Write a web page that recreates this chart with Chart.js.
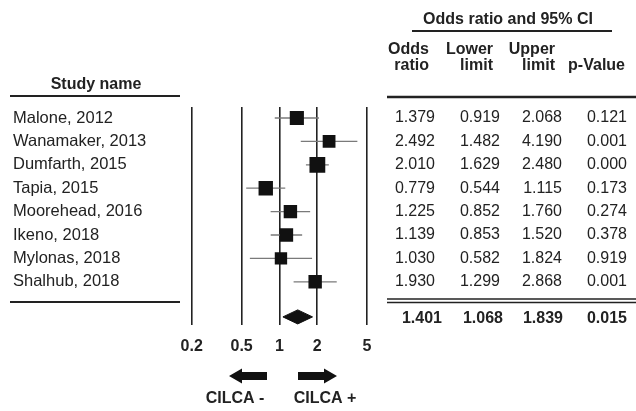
<!DOCTYPE html>
<html>
<head>
<meta charset="utf-8">
<script src="https://cdn.jsdelivr.net/npm/chart.js@4.4.1/dist/chart.umd.min.js"></script>
<style>
  html, body { margin: 0; padding: 0; background: #ffffff; }
  #wrap { width: 636px; height: 411px; position: relative; }
</style>
</head>
<body>
<div id="wrap"><canvas id="c" width="636" height="411"></canvas></div>
<script>
const studies = ['Malone, 2012', 'Wanamaker, 2013', 'Dumfarth, 2015', 'Tapia, 2015',
                 'Moorehead, 2016', 'Ikeno, 2018', 'Mylonas, 2018', 'Shalhub, 2018'];
const oddsRatio  = [1.379, 2.492, 2.010, 0.779, 1.225, 1.139, 1.030, 1.930];
const lowerLimit = [0.919, 1.482, 1.629, 0.544, 0.852, 0.853, 0.582, 1.299];
const upperLimit = [2.068, 4.190, 2.480, 1.115, 1.760, 1.520, 1.824, 2.868];
const pValue     = [0.121, 0.001, 0.000, 0.173, 0.274, 0.378, 0.919, 0.001];
const weights    = [13.2, 10.8, 16.5, 13.7, 11.9, 11.9, 10.1, 11.9];
const summaryValues = [1.401, 1.068, 1.839, 0.015]; // OR, lower, upper, p
const tickValues = [0.2, 0.5, 1, 2, 5];
const tickLabels = ['0.2', '0.5', '1', '2', '5'];
const columnTitles = [['Odds', 'ratio'], ['Lower', 'limit'], ['Upper', 'limit'], ['', 'p-Value']];

const SUMMARY_ROW = studies.length + 0.5;
const DIAMOND_HALF = 0.3;
const FONT = '"Liberation Sans", Arial, sans-serif';
const INK = '#222222';

const squareData = oddsRatio.map((v, i) => ({ x: v, y: i }));
const ciData = lowerLimit.flatMap((lo, i) => [
  { x: lo, y: i }, { x: upperLimit[i], y: i }, { x: null, y: null }
]);
const diamondData = [
  { x: summaryValues[1], y: SUMMARY_ROW },
  { x: summaryValues[0], y: SUMMARY_ROW - DIAMOND_HALF },
  { x: summaryValues[2], y: SUMMARY_ROW },
  { x: summaryValues[0], y: SUMMARY_ROW + DIAMOND_HALF },
  { x: summaryValues[1], y: SUMMARY_ROW }
];

const tablePlugin = {
  id: 'forestTable',
  afterDraw(chart) {
    const ctx = chart.ctx;
    const ys = chart.scales.y;
    ctx.save();
    ctx.fillStyle = INK;
    ctx.strokeStyle = INK;
    ctx.textBaseline = 'middle';

    const hline = (x1, x2, y, w) => {
      ctx.lineWidth = w;
      ctx.beginPath(); ctx.moveTo(x1, y); ctx.lineTo(x2, y); ctx.stroke();
    };

    // left block
    ctx.font = 'bold 16px ' + FONT;
    ctx.textAlign = 'center';
    ctx.fillText('Study name', 96, 85);
    hline(10, 180, 96, 2);
    ctx.font = '16.5px ' + FONT;
    ctx.textAlign = 'left';
    studies.forEach((s, i) => ctx.fillText(s, 13, ys.getPixelForValue(i)));
    hline(10, 180, 302, 2);

    // right block header
    ctx.font = 'bold 16px ' + FONT;
    ctx.textAlign = 'center';
    ctx.fillText('Odds ratio and 95% CI', 508, 20);
    hline(412, 612, 31, 2);
    const headRight = [429, 493, 555, 625];
    ctx.textAlign = 'right';
    columnTitles.forEach((t, c) => {
      ctx.fillText(t[0], headRight[c], 50);
      ctx.fillText(t[1], headRight[c], 66);
    });
    hline(387, 636, 97, 2.5);

    // values
    const colRight = [435, 500, 562, 627];
    ctx.font = '16px ' + FONT;
    const cols = [oddsRatio, lowerLimit, upperLimit, pValue];
    studies.forEach((s, i) => {
      const y = ys.getPixelForValue(i);
      cols.forEach((arr, c) => ctx.fillText(arr[i].toFixed(3), colRight[c], y));
    });
    hline(387, 636, 299, 1.5);
    hline(387, 636, 302.5, 1.5);

    const sumRight = [442, 503, 563, 627];
    ctx.font = 'bold 16px ' + FONT;
    const sy = ys.getPixelForValue(SUMMARY_ROW);
    summaryValues.forEach((v, c) => ctx.fillText(v.toFixed(3), sumRight[c], sy + 1.5));

    // direction arrows
    const arrow = (tip, tail, y, dir) => {
      const headLen = 13;
      ctx.beginPath();
      ctx.moveTo(tip, y);
      ctx.lineTo(tip - dir * headLen, y - 7.5);
      ctx.lineTo(tip - dir * headLen, y - 4);
      ctx.lineTo(tail, y - 4);
      ctx.lineTo(tail, y + 4);
      ctx.lineTo(tip - dir * headLen, y + 4);
      ctx.lineTo(tip - dir * headLen, y + 7.5);
      ctx.closePath();
      ctx.fill();
    };
    ctx.fillStyle = '#111';
    arrow(229, 267, 376, -1);
    arrow(337, 298, 376, 1);
    ctx.fillStyle = INK;
    ctx.font = 'bold 16px ' + FONT;
    ctx.textAlign = 'center';
    ctx.fillText('CILCA -', 235, 399);
    ctx.fillText('CILCA +', 325, 399);
    ctx.restore();
  }
};

new Chart(document.getElementById('c'), {
  type: 'scatter',
  data: {
    datasets: [
      {
        label: 'Odds ratio',
        data: squareData,
        pointStyle: 'rect',
        pointRadius: weights.map(w => 2.75 * Math.sqrt(w)),
        pointHoverRadius: weights.map(w => 2.75 * Math.sqrt(w)),
        backgroundColor: '#111111',
        borderColor: '#111111',
        borderWidth: 0,
        order: 0
      },
      {
        label: '95% CI',
        data: ciData,
        showLine: true,
        spanGaps: false,
        pointRadius: 0,
        borderColor: '#7a7a7a',
        borderWidth: 1.3,
        order: 2
      },
      {
        label: 'Summary',
        data: diamondData,
        showLine: true,
        fill: 'shape',
        pointRadius: 0,
        borderColor: '#111111',
        backgroundColor: '#111111',
        borderWidth: 1,
        order: 1
      }
    ]
  },
  options: {
    responsive: false,
    animation: false,
    devicePixelRatio: 1,
    layout: { padding: { left: 191.7, right: 269, top: 107, bottom: 0 } },
    plugins: { legend: { display: false }, tooltip: { enabled: false } },
    scales: {
      x: {
        type: 'logarithmic',
        min: 0.2,
        max: 5,
        afterBuildTicks: (scale) => { scale.ticks = tickValues.map(v => ({ value: v })); },
        afterFit: (scale) => { scale.height = 86; },
        border: { display: false },
        grid: { color: INK, lineWidth: 1.6, drawTicks: false, drawOnChartArea: true },
        ticks: {
          autoSkip: false,
          maxRotation: 0,
          padding: 12,
          color: INK,
          font: { family: FONT, size: 16, weight: 'bold' },
          callback: (v, i) => tickLabels[i]
        }
      },
      y: {
        type: 'linear',
        display: false,
        reverse: true,
        min: -0.47,
        max: 8.846
      }
    }
  },
  plugins: [tablePlugin]
});
</script>
</body>
</html>
